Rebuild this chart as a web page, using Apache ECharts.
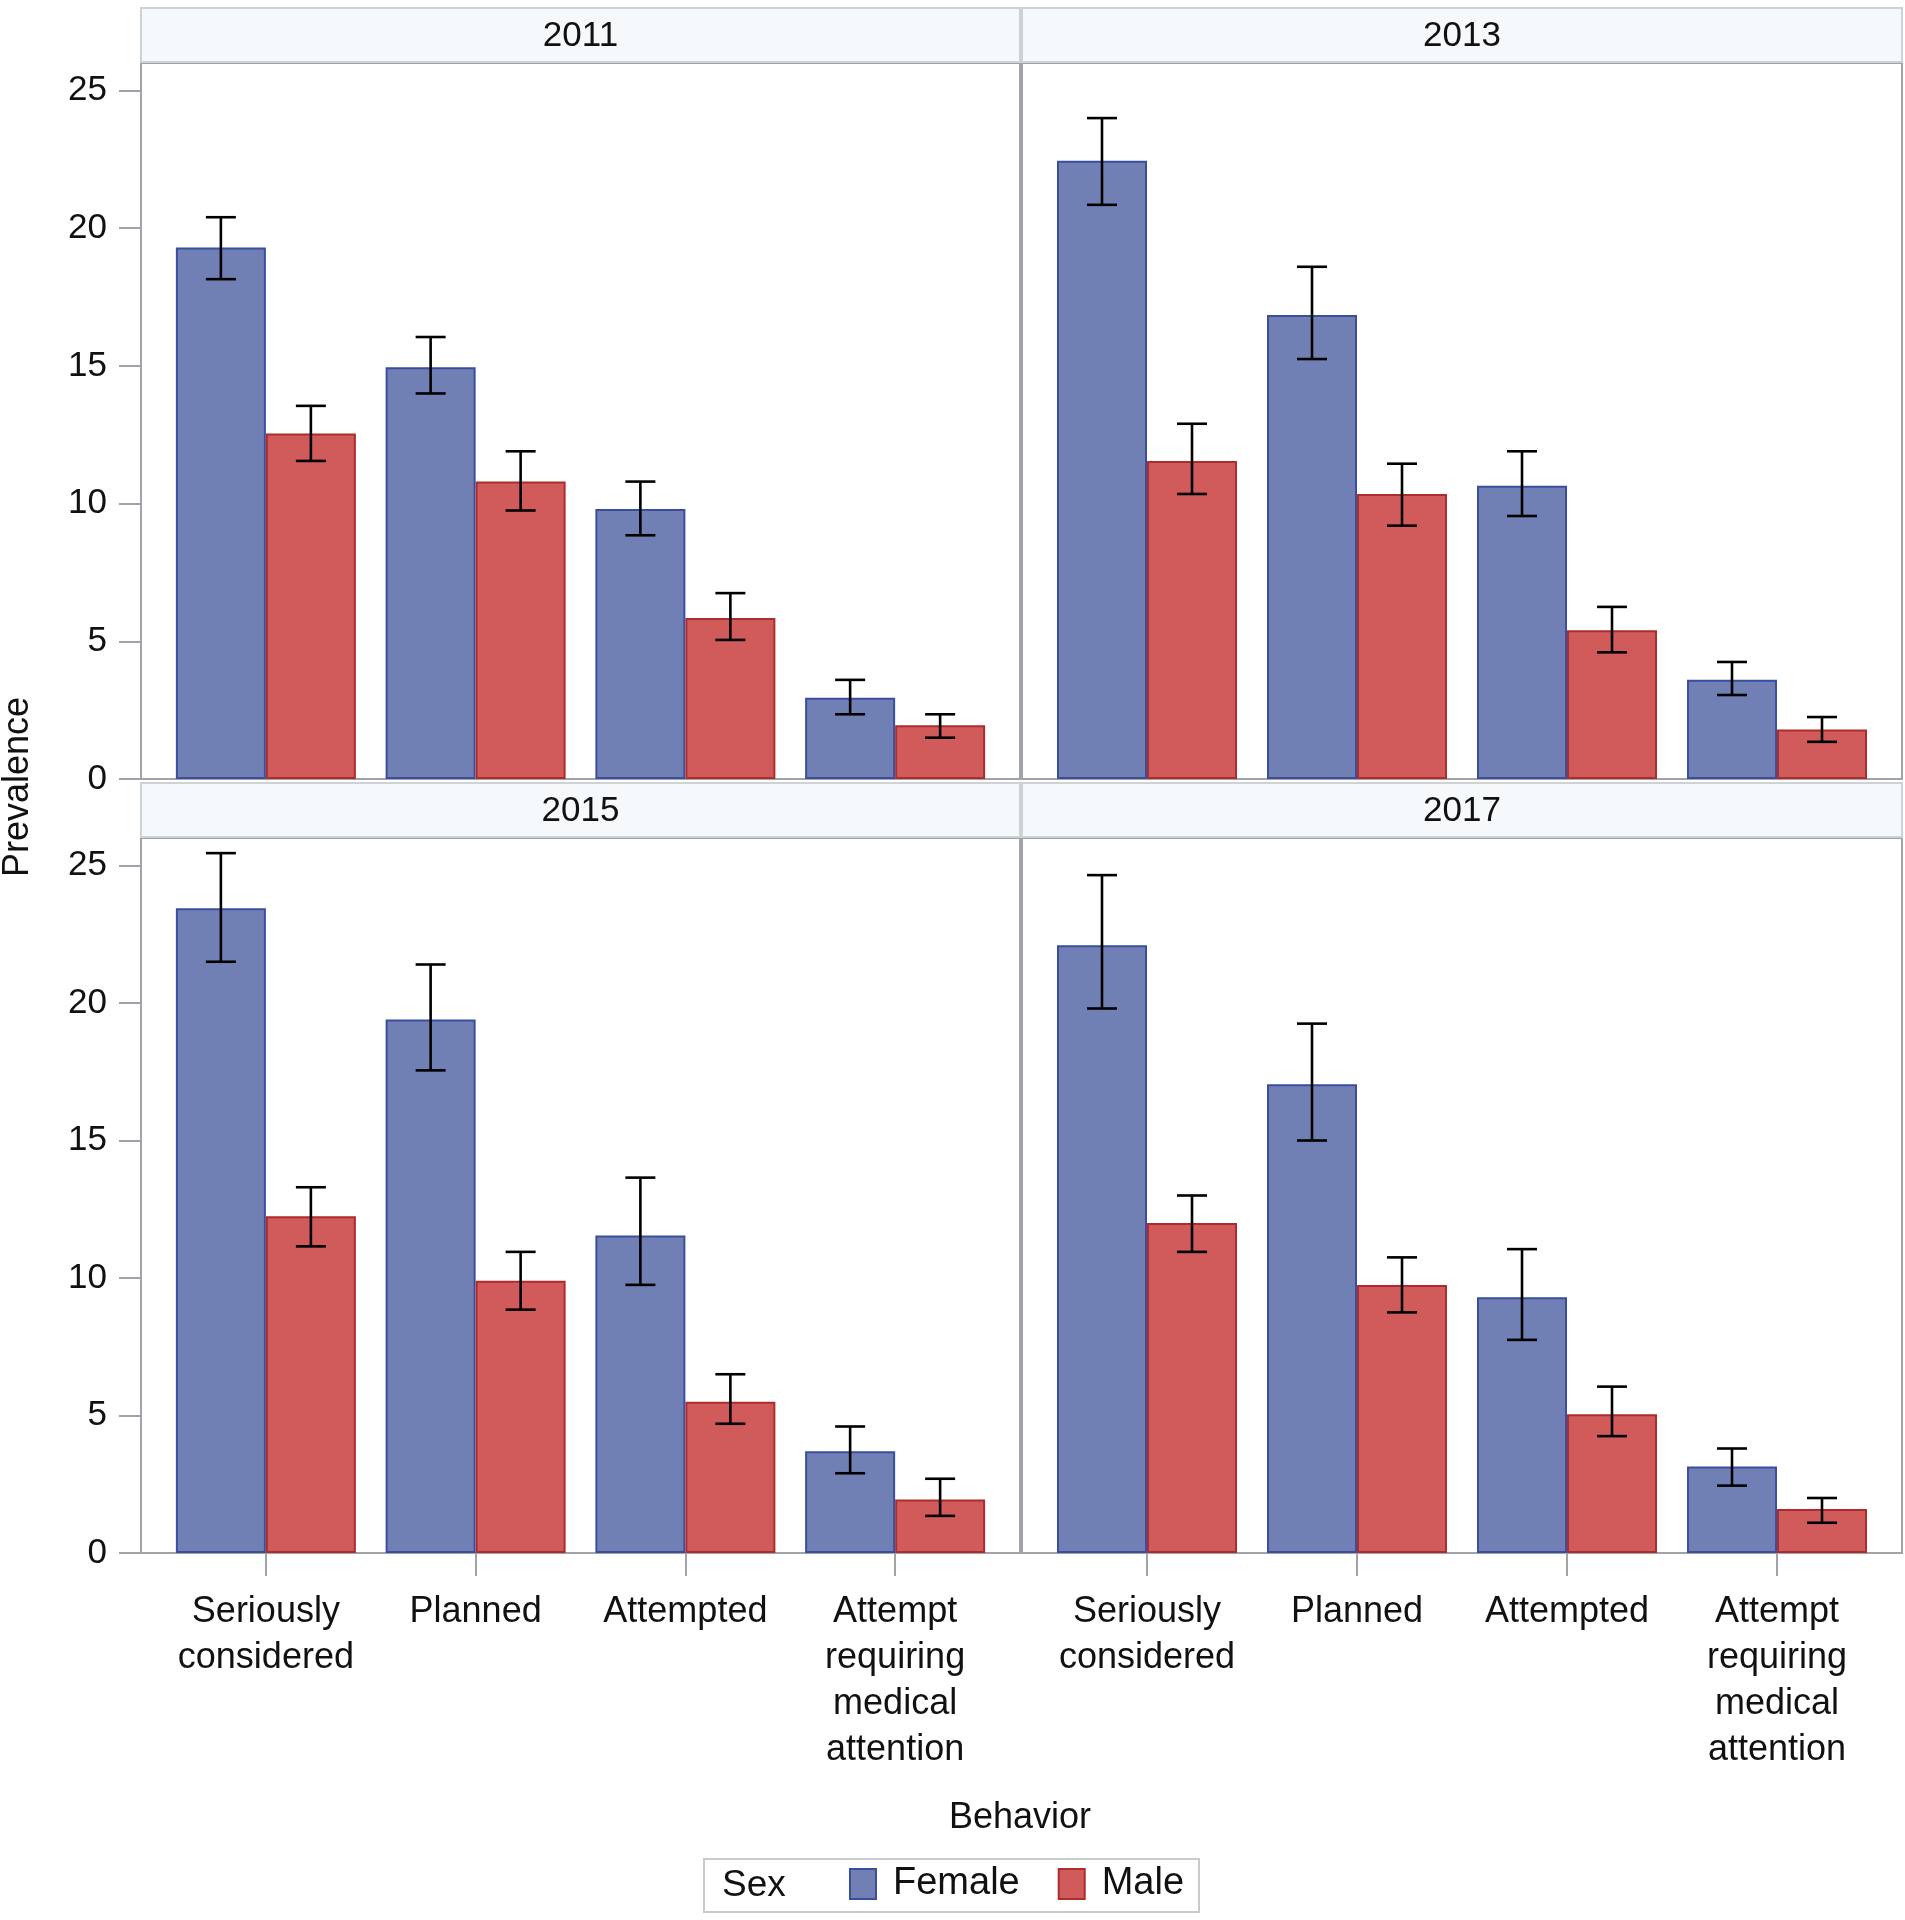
<!DOCTYPE html>
<html>
<head>
<meta charset="utf-8">
<script src="https://cdn.jsdelivr.net/npm/echarts@6/dist/echarts.min.js"></script>
<style>
html,body{margin:0;padding:0;background:#fff;}
#chart{width:1905px;height:1920px;}
</style>
</head>
<body>
<div id="chart"></div>
<script>
// ---------- DATA ----------
const categories = ['Seriously\nconsidered', 'Planned', 'Attempted', 'Attempt\nrequiring\nmedical\nattention'];
const years = ['2011', '2013', '2015', '2017'];
const yTicks = [0, 5, 10, 15, 20, 25];

const female2011 = [19.3, 14.95, 9.8, 2.95];
const female2011CI = [[18.15, 20.4], [14.0, 16.05], [8.85, 10.8], [2.35, 3.6]];
const male2011 = [12.55, 10.8, 5.85, 1.95];
const male2011CI = [[11.55, 13.55], [9.75, 11.9], [5.05, 6.75], [1.5, 2.35]];

const female2013 = [22.45, 16.85, 10.65, 3.6];
const female2013CI = [[20.85, 24.0], [15.25, 18.6], [9.55, 11.9], [3.05, 4.25]];
const male2013 = [11.55, 10.35, 5.4, 1.8];
const male2013CI = [[10.35, 12.9], [9.2, 11.45], [4.6, 6.25], [1.35, 2.25]];

const female2015 = [23.45, 19.4, 11.55, 3.7];
const female2015CI = [[21.5, 25.45], [17.55, 21.4], [9.75, 13.65], [2.9, 4.6]];
const male2015 = [12.25, 9.9, 5.5, 1.95];
const male2015CI = [[11.15, 13.3], [8.85, 10.95], [4.7, 6.5], [1.35, 2.7]];

const female2017 = [22.1, 17.05, 9.3, 3.15];
const female2017CI = [[19.8, 24.65], [15.0, 19.25], [7.75, 11.05], [2.45, 3.8]];
const male2017 = [12.0, 9.75, 5.05, 1.6];
const male2017CI = [[10.95, 13.0], [8.75, 10.75], [4.25, 6.05], [1.1, 2.0]];

// ---------- BUILD ----------
const femaleByYear = [female2011, female2013, female2015, female2017];
const femaleCIByYear = [female2011CI, female2013CI, female2015CI, female2017CI];
const maleByYear = [male2011, male2013, male2015, male2017];
const maleCIByYear = [male2011CI, male2013CI, male2015CI, male2017CI];

const FONT = '"Liberation Sans", Arial, sans-serif';
const FEMALE_FILL = '#7080b4', FEMALE_BORDER = '#3b4e9e';
const MALE_FILL = '#d15a5a', MALE_BORDER = '#ad2d2d';
const FRAME = '#a0a4a8', HEAD_BORDER = '#cfd2d5', HEAD_FILL = '#f6f9fc';

const panels = [
  {x: 141, y: 63, w: 879, h: 716, hy: 8, left: true, bottom: false},
  {x: 1022, y: 63, w: 880, h: 716, hy: 8, left: false, bottom: false},
  {x: 141, y: 838, w: 879, h: 715, hy: 783, left: true, bottom: true},
  {x: 1022, y: 838, w: 880, h: 715, hy: 783, left: false, bottom: true}
];
const INSET = 20;
const YMAX = 26;

const grid = [], xAxis = [], yAxis = [], series = [], graphic = [];

panels.forEach((p, i) => {
  grid.push({left: p.x, top: p.y, width: p.w, height: p.h, show: true,
    borderColor: FRAME, borderWidth: 2, backgroundColor: '#fff', containLabel: false});
  xAxis.push({type: 'value', gridIndex: i, min: 0, max: 1, show: false});
  yAxis.push({type: 'value', gridIndex: i, min: 0, max: YMAX, interval: 5, show: p.left,
    axisLine: {show: false},
    axisTick: {show: p.left, length: 22, lineStyle: {color: FRAME, width: 2}, customValues: yTicks},
    axisLabel: {show: p.left, fontSize: 35, fontFamily: FONT, color: '#111', margin: 34, customValues: yTicks},
    splitLine: {show: false}});
});
panels.forEach((p, i) => {
  const gi = 4 + i;
  grid.push({left: p.x + INSET, top: p.y, width: p.w - 2 * INSET, height: p.h, show: false, containLabel: false});
  xAxis.push({type: 'category', gridIndex: gi, data: categories,
    axisLine: {show: false},
    axisTick: {show: p.bottom, alignWithLabel: true, length: 23, lineStyle: {color: FRAME, width: 2}},
    axisLabel: {show: p.bottom, interval: 0, fontSize: 36, lineHeight: 46, fontFamily: FONT, color: '#111', margin: 36, align: 'center'}});
  yAxis.push({type: 'value', gridIndex: gi, min: 0, max: YMAX, show: false, splitLine: {show: false}});

  series.push({name: 'Female', type: 'bar', xAxisIndex: gi, yAxisIndex: gi, data: femaleByYear[i],
    barWidth: 90, barGap: '0%',
    itemStyle: {color: FEMALE_FILL, borderColor: FEMALE_BORDER, borderWidth: 2}});
  series.push({name: 'Male', type: 'bar', xAxisIndex: gi, yAxisIndex: gi, data: maleByYear[i],
    barWidth: 90, barGap: '0%',
    itemStyle: {color: MALE_FILL, borderColor: MALE_BORDER, borderWidth: 2}});

  [[femaleCIByYear[i], -45], [maleCIByYear[i], 45]].forEach(([ci, off]) => {
    series.push({type: 'custom', xAxisIndex: gi, yAxisIndex: gi, z: 5,
      data: ci.map((d, k) => [k, d[0], d[1]]),
      encode: {x: 0, y: [1, 2]},
      renderItem: (params, api) => {
        const c = api.value(0);
        const lo = api.coord([c, api.value(1)]);
        const hi = api.coord([c, api.value(2)]);
        const x = lo[0] + off;
        const cap = 15;
        const st = {stroke: '#000', lineWidth: 2.6};
        return {type: 'group', children: [
          {type: 'line', shape: {x1: x, y1: lo[1], x2: x, y2: hi[1]}, style: st},
          {type: 'line', shape: {x1: x - cap, y1: lo[1], x2: x + cap, y2: lo[1]}, style: st},
          {type: 'line', shape: {x1: x - cap, y1: hi[1], x2: x + cap, y2: hi[1]}, style: st}
        ]};
      }});
  });

  graphic.push({type: 'rect', z: 10, shape: {x: p.x, y: p.hy, width: p.w, height: 54},
    style: {fill: HEAD_FILL, stroke: HEAD_BORDER, lineWidth: 2}});
  graphic.push({type: 'text', z: 11, x: p.x + p.w / 2, y: p.hy + 28,
    style: {text: years[i], font: '35px ' + FONT, fill: '#111', textAlign: 'center', textVerticalAlign: 'middle'}});
});

graphic.push({type: 'text', x: 18, y: 787, rotation: Math.PI / 2,
  style: {text: 'Prevalence', font: '36px ' + FONT, fill: '#111', textAlign: 'center', textVerticalAlign: 'middle'}});
graphic.push({type: 'text', x: 1020, y: 1818,
  style: {text: 'Behavior', font: '36px ' + FONT, fill: '#111', textAlign: 'center', textVerticalAlign: 'middle'}});
graphic.push({type: 'rect', shape: {x: 704, y: 1859, width: 495, height: 53},
  style: {fill: 'none', stroke: '#c8cacc', lineWidth: 2}});
graphic.push({type: 'text', x: 722, y: 1886,
  style: {text: 'Sex', font: '37px ' + FONT, fill: '#111', textAlign: 'left', textVerticalAlign: 'middle'}});

const option = {
  animation: false,
  backgroundColor: '#fff',
  textStyle: {fontFamily: FONT},
  grid, xAxis, yAxis, series, graphic,
  legend: {data: ['Female', 'Male'], left: 849, top: 1865, orient: 'horizontal', padding: 0,
    icon: 'rect', itemWidth: 26, itemHeight: 30, itemGap: 38,
    textStyle: {fontSize: 38, fontFamily: FONT, color: '#111', padding: [0, 0, 0, 12]}}
};

const chart = echarts.init(document.getElementById('chart'), null, {renderer: 'canvas'});
chart.setOption(option);
</script>
</body>
</html>
